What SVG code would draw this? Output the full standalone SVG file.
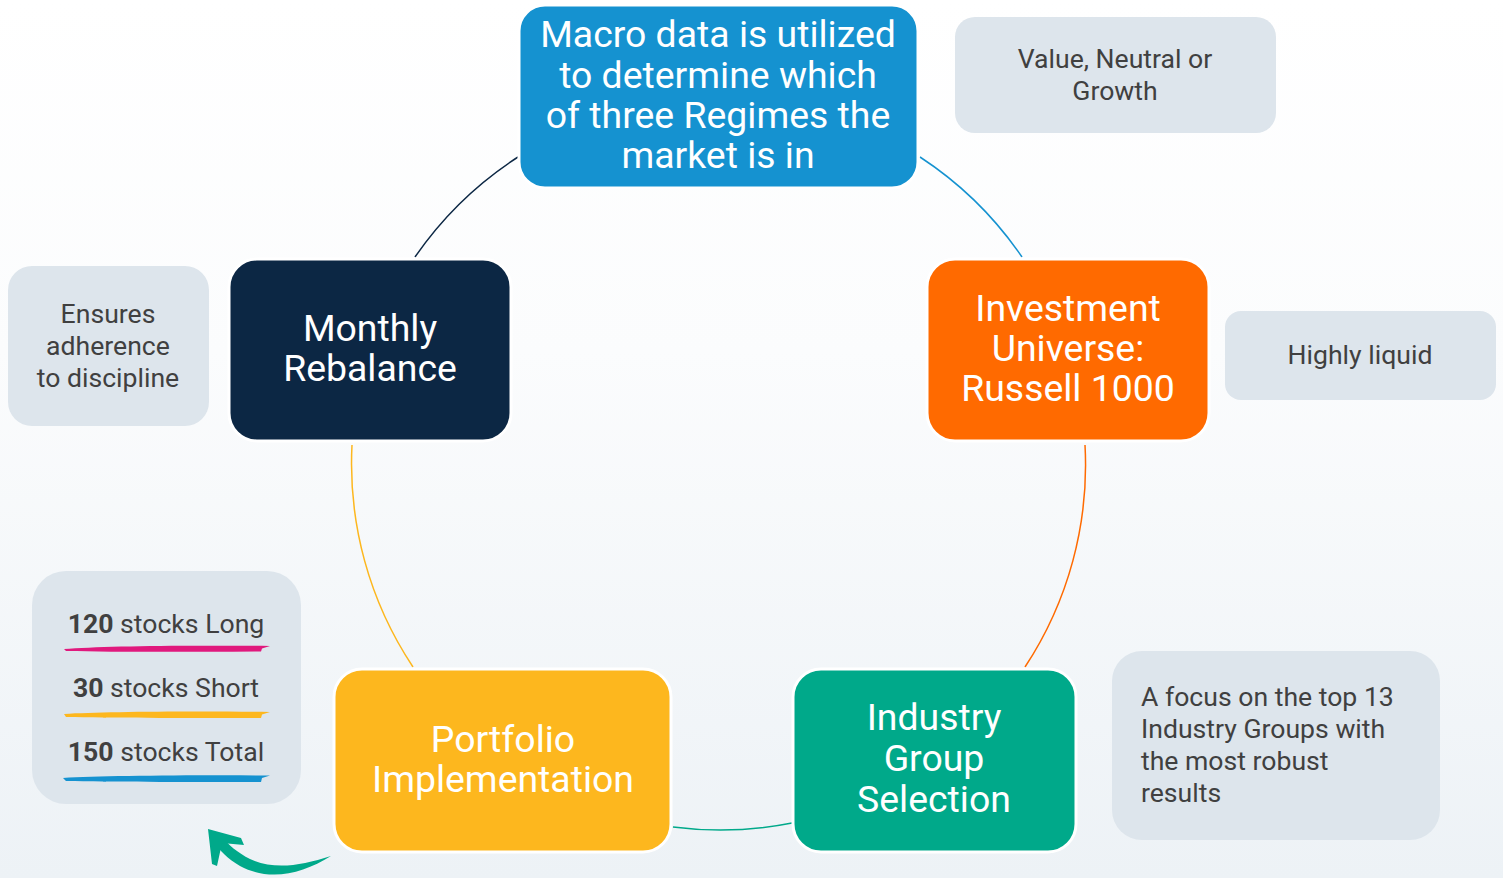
<svg xmlns="http://www.w3.org/2000/svg" width="1503" height="878" viewBox="0 0 1503 878">
<defs>
<linearGradient id="bg" x1="0" y1="0" x2="0" y2="1">
<stop offset="0" stop-color="#ffffff"/>
<stop offset="0.4" stop-color="#fbfcfd"/>
<stop offset="1" stop-color="#edf2f6"/>
</linearGradient>
<style>
.node{stroke:#ffffff;stroke-width:3}
.nt{font-family:Roboto,"Liberation Sans",sans-serif;font-size:37.4px;fill:#ffffff;text-anchor:middle}
.side{fill:#dde5ec}
.st{font-family:Roboto,"Liberation Sans",sans-serif;font-size:26.6px;fill:#404040;text-anchor:middle}
.arc{fill:none;stroke-width:1.5}
</style>
</defs>
<rect width="1503" height="878" fill="url(#bg)"/>
<g id="connectors">
<path class="arc" stroke="#0c2744" d="M415,257 A367,367 0 0 1 518,157"/>
<path class="arc" stroke="#1592d0" d="M920,157 A367,367 0 0 1 1022,257"/>
<path class="arc" stroke="#ff6a00" d="M1085,445 A367,367 0 0 1 1025,667"/>
<path class="arc" stroke="#00a98a" d="M792,823 A367,367 0 0 1 673,827"/>
<path class="arc" stroke="#fdb71e" d="M413,667 A367,367 0 0 1 352,445"/>
<g id="return-arrow" fill="#00a98a">
<path d="M331,856 C302,874 270,882 240,866 C228,859 219,850 213,841 L220,834 C228,845 238,853 250,859 C274,870 300,866 331,856 Z"/>
<path d="M208,829 L241,838 L244,845 L222,843 L217,866 L212,864 Z"/>
</g>
</g>
<g id="node-macro">
<rect class="node" x="519" y="5" width="399" height="183" rx="26" fill="#1592d0"/>
<text class="nt" x="718" y="47">Macro data is utilized</text>
<text class="nt" x="718" y="88">to determine which</text>
<text class="nt" x="718" y="128">of three Regimes the</text>
<text class="nt" x="718" y="168">market is in</text>
</g>
<g id="node-universe">
<rect class="node" x="927" y="259" width="282" height="182" rx="28" fill="#ff6a00"/>
<text class="nt" x="1068" y="321">Investment</text>
<text class="nt" x="1068" y="361">Universe:</text>
<text class="nt" x="1068" y="401">Russell 1000</text>
</g>
<g id="node-industry">
<rect class="node" x="793" y="669" width="283" height="183" rx="28" fill="#00a98a"/>
<text class="nt" x="934" y="730">Industry</text>
<text class="nt" x="934" y="771">Group</text>
<text class="nt" x="934" y="812">Selection</text>
</g>
<g id="node-portfolio">
<rect class="node" x="334" y="669" width="337" height="183" rx="28" fill="#fdb71e"/>
<text class="nt" x="503" y="752">Portfolio</text>
<text class="nt" x="503" y="792">Implementation</text>
</g>
<g id="node-rebalance">
<rect class="node" x="229" y="259" width="282" height="182" rx="28" fill="#0c2744"/>
<text class="nt" x="370" y="341">Monthly</text>
<text class="nt" x="370" y="381">Rebalance</text>
</g>
<g id="note-regimes">
<rect class="side" x="955" y="17" width="321" height="116" rx="20"/>
<text class="st" x="1115" y="68">Value, Neutral or</text>
<text class="st" x="1115" y="100">Growth</text>
</g>
<g id="note-liquid">
<rect class="side" x="1225" y="311" width="271" height="89" rx="16"/>
<text class="st" x="1360" y="364">Highly liquid</text>
</g>
<g id="note-discipline">
<rect class="side" x="8" y="266" width="201" height="160" rx="24"/>
<text class="st" x="108" y="323">Ensures</text>
<text class="st" x="108" y="355">adherence</text>
<text class="st" x="108" y="387">to discipline</text>
</g>
<g id="note-focus">
<rect class="side" x="1112" y="651" width="328" height="189" rx="30"/>
<text class="st" x="1141" y="706" style="text-anchor:start">A focus on the top 13</text>
<text class="st" x="1141" y="738" style="text-anchor:start">Industry Groups with</text>
<text class="st" x="1141" y="770" style="text-anchor:start">the most robust</text>
<text class="st" x="1141" y="802" style="text-anchor:start">results</text>
</g>
<g id="note-stocks">
<rect class="side" x="32" y="571" width="269" height="233" rx="34"/>
<text class="st" x="166" y="633"><tspan font-weight="bold">120</tspan> stocks Long</text>
<path d="M64,649 C100,646 180,645 270,646 L262,648.5 L261,651.5 C180,652 110,652 66,651 Z" fill="#e0197d"/>
<text class="st" x="166" y="697"><tspan font-weight="bold">30</tspan> stocks Short</text>
<path d="M64,714 C100,712 180,711 270,712 L262,714.5 L261,718 C180,718 110,718 66,717 Z" fill="#fdb71e"/>
<text class="st" x="166" y="761"><tspan font-weight="bold">150</tspan> stocks Total</text>
<path d="M63,778 C100,776 180,775 270,775.5 L262,778 L261,782 C180,782 110,782 66,781 Z" fill="#1592d0"/>
</g>
</svg>
